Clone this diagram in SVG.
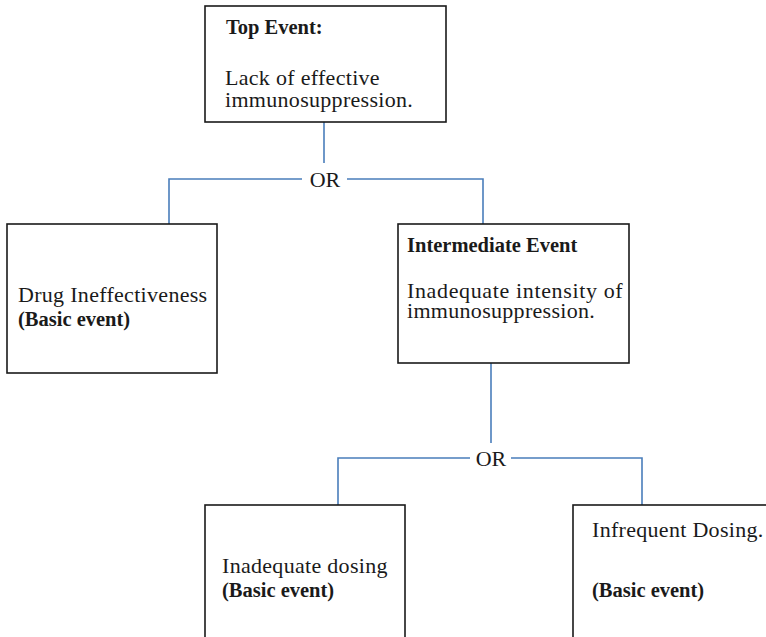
<svg xmlns="http://www.w3.org/2000/svg" width="766" height="637" viewBox="0 0 766 637">
  <style>
    .box { fill: #ffffff; stroke: #1a1a1a; stroke-width: 1.6; }
    .link { fill: none; stroke: #4a7ebb; stroke-width: 1.6; }
    .t { font-family: "Liberation Serif", "Times New Roman", serif; font-size: 22px; fill: #1a1a1a; letter-spacing: 0.3px; }
    .b { font-family: "Liberation Serif", "Times New Roman", serif; font-size: 20.5px; font-weight: bold; fill: #1a1a1a; }
    .gate { font-family: "Liberation Serif", "Times New Roman", serif; font-size: 22px; fill: #1a1a1a; text-anchor: middle; }
  </style>
  <rect width="766" height="637" fill="#ffffff"/>

  <!-- connectors and OR gates -->
  <g id="connectors">
    <path class="link" d="M324,122 V163"/>
    <path class="link" d="M302,179 H169 V224"/>
    <path class="link" d="M347,179 H483 V224"/>
    <text class="gate" x="325" y="186.5">OR</text>

    <path class="link" d="M491,363 V443"/>
    <path class="link" d="M470,458 H338 V505"/>
    <path class="link" d="M511,458 H642 V505"/>
    <text class="gate" x="491" y="466">OR</text>
  </g>

  <!-- top event -->
  <g id="top-event">
    <rect class="box" x="205" y="6" width="241" height="116"/>
    <text class="b" x="226" y="34">Top Event:</text>
    <text class="t" x="225" y="85">Lack of effective</text>
    <text class="t" x="225" y="107">immunosuppression.</text>
  </g>

  <!-- basic event: drug ineffectiveness -->
  <g id="drug-ineffectiveness">
    <rect class="box" x="7" y="224" width="210" height="149"/>
    <text class="t" x="18" y="302">Drug Ineffectiveness</text>
    <text class="b" x="18" y="326">(Basic event)</text>
  </g>

  <!-- intermediate event -->
  <g id="intermediate-event">
    <rect class="box" x="398" y="224" width="231" height="139"/>
    <text class="b" x="407" y="252">Intermediate Event</text>
    <text class="t" x="407" y="298" textLength="216" lengthAdjust="spacing">Inadequate intensity of</text>
    <text class="t" x="407" y="318">immunosuppression.</text>
  </g>

  <!-- basic event: inadequate dosing -->
  <g id="inadequate-dosing">
    <rect class="box" x="205" y="505" width="200" height="150"/>
    <text class="t" x="222" y="573">Inadequate dosing</text>
    <text class="b" x="222" y="597">(Basic event)</text>
  </g>

  <!-- basic event: infrequent dosing -->
  <g id="infrequent-dosing">
    <rect class="box" x="573" y="505" width="220" height="150"/>
    <text class="t" x="592" y="537">Infrequent Dosing.</text>
    <text class="b" x="592" y="597">(Basic event)</text>
  </g>
</svg>
